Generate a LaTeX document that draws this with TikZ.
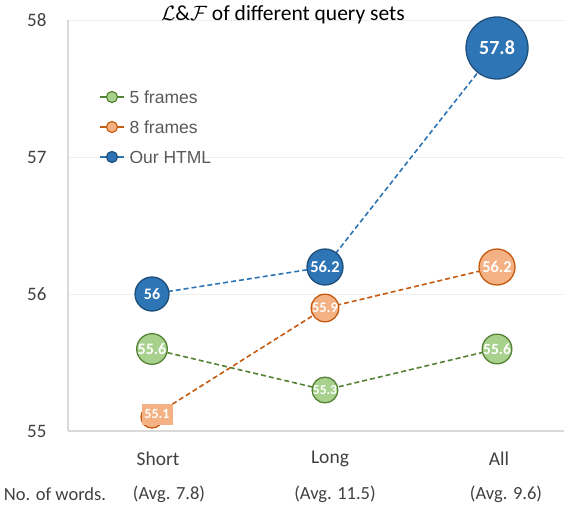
\documentclass[tikz,border=0pt]{standalone}
\usepackage{fontspec}
\setmainfont{Carlito}
\newfontfamily\arialf{Liberation Sans}
\definecolor{bfill}{HTML}{2E75B6}
\definecolor{bdraw}{HTML}{1F4E79}
\definecolor{ofill}{HTML}{F4B183}
\definecolor{odraw}{HTML}{C55A11}
\definecolor{gfill}{HTML}{A9D18E}
\definecolor{gdraw}{HTML}{548235}
\definecolor{axisc}{HTML}{D9D9D9}
\definecolor{gridc}{HTML}{EFEFEF}
\definecolor{txt}{HTML}{404040}
\definecolor{legt}{HTML}{595959}
\begin{document}
\begin{tikzpicture}[x=1pt,y=-1pt,
  mk/.style={circle,inner sep=0pt,line width=1.3pt,minimum size=#1,text=white},
  fs/.style={font=\fontsize{#1}{#1}\selectfont\bfseries},
  hb/.style={draw=bdraw,fill=bfill},
  ho/.style={draw=odraw,fill=ofill},
  hg/.style={draw=gdraw,fill=gfill},
  dl/.style={line width=1.6pt,dash pattern=on 5pt off 3pt},
  tick/.style={font=\fontsize{19}{19}\selectfont,text=txt,anchor=east},
  cat/.style={font=\fontsize{19.5}{19.5}\selectfont,text=txt},
  sub/.style={font=\fontsize{18.5}{18.5}\selectfont,text=txt},
  leg/.style={font=\arialf\fontsize{17.5}{17.5}\selectfont,text=legt,anchor=west}]
\useasboundingbox (0,0) rectangle (564,508);
% grid
\draw[gridc,line width=0.8pt] (68,20) -- (564,20);
\draw[gridc,line width=0.8pt] (68,157) -- (564,157);
\draw[gridc,line width=0.8pt] (68,294) -- (564,294);
\draw[axisc,line width=1.2pt] (68,431) -- (564,431);
\draw[axisc,line width=1.2pt] (68,20) -- (68,431);
% ticks
\node[tick] (t58) at (50,20) {58};
\node[tick] (t57) at (50,157) {57};
\node[tick] (t56) at (50,294) {56};
\node[tick] (t55) at (50,431) {55};
% title
\node[font=\fontsize{21.5}{21.5}\selectfont] (title) at (283,15) {$\mathcal{L}\&\mathcal{F}$ of different query sets};
% categories
\node[cat] (cs) at (158,459) {Short};
\node[cat] (cl) at (330,459) {Long};
\node[cat] (ca) at (499,459) {All};
\node[sub] (nw) at (55,494) {No. of words.};
\node[sub] (as) at (169,494) {(Avg. 7.8)};
\node[sub] (al) at (335,494) {(Avg. 11.5)};
\node[sub] (aa) at (506,494) {(Avg. 9.6)};
% coordinates of points
\coordinate (hS) at (152,294);
\coordinate (hL) at (325,267);
\coordinate (hA) at (497,48);
\coordinate (oS) at (152,417);
\coordinate (oL) at (325,308);
\coordinate (oA) at (497,267);
\coordinate (gS) at (152,349);
\coordinate (gL) at (325,390);
\coordinate (gA) at (497,349);
% lines
\draw[dl,gdraw] (gS) -- (gL) -- (gA);
\draw[dl,odraw] (oS) -- (oL) -- (oA);
\draw[dl,bfill] (hS) -- (hL) -- (hA);
% markers
\node[mk=30pt,hg,fs=16] (g1) at (gS) {55.6};
\node[mk=24pt,hg,fs=13.5] (g2) at (gL) {55.3};
\node[mk=29pt,hg,fs=15.5] (g3) at (gA) {55.6};
\node[mk=22pt,ho] (o1) at (oS) {};
\node[fill=ofill,inner sep=2pt,minimum width=31pt,minimum height=21pt,text=white,fs=14] (o1l) at (157,414) {55.1};
\node[mk=26pt,ho,fs=14.5] (o2) at (oL) {55.9};
\node[mk=36pt,ho,fs=16.5] (o3) at (oA) {56.2};
\node[mk=34pt,hb,fs=16] (h1) at (hS) {56};
\node[mk=36pt,hb,fs=16.5] (h2) at (hL) {56.2};
\node[mk=62pt,hb,fs=20] (h3) at (hA) {57.8};
% legend
\coordinate (l1a) at (100,97); \coordinate (l1b) at (124,97);
\coordinate (l2a) at (100,127); \coordinate (l2b) at (124,127);
\coordinate (l3a) at (100,157); \coordinate (l3b) at (124,157);
\draw[gdraw,line width=1.6pt] (l1a) -- (l1b);
\draw[odraw,line width=1.6pt] (l2a) -- (l2b);
\draw[bfill,line width=1.6pt] (l3a) -- (l3b);
\node[circle,inner sep=0pt,minimum size=11pt,line width=1.2pt,hg] (lm1) at (112,97) {};
\node[circle,inner sep=0pt,minimum size=11pt,line width=1.2pt,ho] (lm2) at (112,127) {};
\node[circle,inner sep=0pt,minimum size=11pt,line width=1.2pt,hb] (lm3) at (112,157) {};
\node[leg] (lt1) at (126,97) {5 frames};
\node[leg] (lt2) at (126,127) {8 frames};
\node[leg] (lt3) at (126,157) {Our HTML};
\end{tikzpicture}
\end{document}
